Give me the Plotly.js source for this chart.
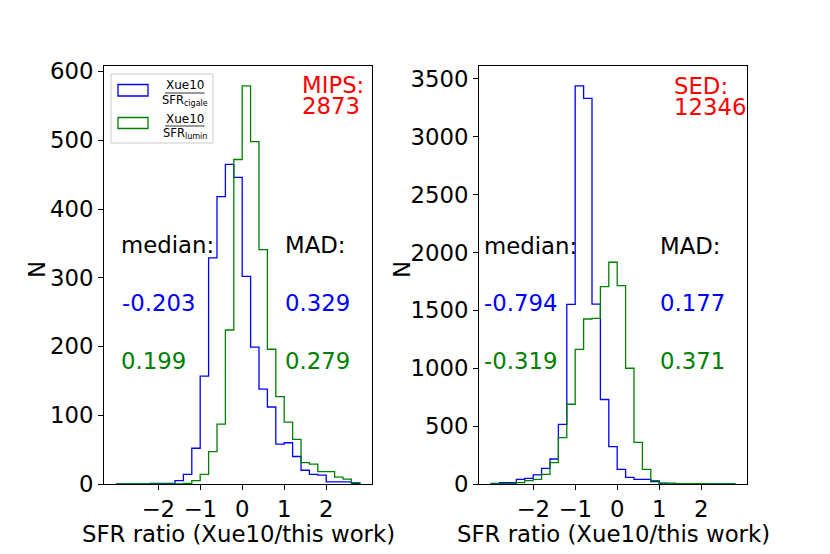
<!DOCTYPE html>
<html>
<head>
<meta charset="utf-8">
<script src="https://cdn.plot.ly/plotly-3.0.1.min.js"></script>
<style>
  body { margin: 0; background: #fff; }
  #chart { width: 830px; height: 554px; }
</style>
</head>
<body>
<div id="chart"></div>
<script>
// histogram bin edges, shared by both panels (width 0.2)
const binEdges = [-3.0, -2.8, -2.6, -2.4, -2.2, -2.0, -1.8, -1.6, -1.4, -1.2, -1.0,
  -0.8, -0.6, -0.4, -0.2, 0.0, 0.2, 0.4, 0.6, 0.8, 1.0, 1.2, 1.4, 1.6, 1.8, 2.0,
  2.2, 2.4, 2.6, 2.8];

// counts per bin
const mipsCigale = [0, 0, 0, 0, 1, 1, 1, 5, 14, 52, 157, 329, 418, 465, 446, 302,
  199, 138, 112, 58, 60, 40, 20, 14, 13, 3, 3, 3, 1];
const mipsLumin = [0, 0, 0, 0, 0, 0, 0, 0, 1, 5, 14, 47, 87, 224, 472, 579, 498,
  341, 196, 127, 90, 65, 31, 29, 18, 18, 10, 7, 2];
const sedCigale = [5, 12, 12, 40, 49, 78, 135, 216, 516, 1553, 3440, 3333, 1555,
  730, 323, 127, 58, 40, 40, 20, 8, 6, 4, 3, 2, 2, 1, 1, 1];
const sedLumin = [2, 3, 3, 12, 29, 40, 84, 184, 400, 689, 1164, 1426, 1432, 1705,
  1916, 1714, 1000, 360, 127, 29, 6, 5, 4, 3, 2, 2, 1, 1, 1];

const xTicks = [-2, -1, 0, 1, 2];
const mipsTicks = [0, 100, 200, 300, 400, 500, 600];
const sedTicks = [0, 500, 1000, 1500, 2000, 2500, 3000, 3500];

// axis labels, sample labels and statistics
const xLabel = "SFR ratio (Xue10/this work)";
const yLabel = "N";
const sampleNames = ["MIPS:", "SED:"];
const sampleSizes = ["2873", "12346"];
const medianCigale = ["-0.203", "-0.794"];
const medianLumin = ["0.199", "-0.319"];
const madCigale = ["0.329", "0.177"];
const madLumin = ["0.279", "0.371"];

const BLUE = "#0000ff", GREEN = "#008000", RED = "#ff0000";
const FONT = "DejaVu Sans";
const FS = 22.8;

// plot area in page pixels
const L = 104, R = 747, T = 66, B = 484;
const px = (x) => (x - L) / (R - L);
const py = (y) => (B - y) / (B - T);

// step outline like matplotlib histtype="step"
function stepTrace(counts, color, xa, ya) {
  return {
    type: "scatter",
    mode: "lines",
    x: [binEdges[0]].concat(binEdges),
    y: [0].concat(counts, [0]),
    line: { color: color, width: 1.3, shape: "hv" },
    xaxis: xa,
    yaxis: ya,
    hoverinfo: "skip",
    showlegend: false,
  };
}

const data = [
  stepTrace(mipsCigale, BLUE, "x", "y"),
  stepTrace(mipsLumin, GREEN, "x", "y"),
  stepTrace(sedCigale, BLUE, "x2", "y2"),
  stepTrace(sedLumin, GREEN, "x2", "y2"),
];

const axisCommon = {
  showline: true,
  mirror: true,
  linecolor: "#000",
  linewidth: 1,
  ticks: "outside",
  ticklen: 5,
  tickwidth: 1,
  tickcolor: "#000",
  showgrid: false,
  zeroline: false,
  tickfont: { family: FONT, size: FS, color: "#000" },
};

function xAxis(domain, anchor) {
  return Object.assign({}, axisCommon, {
    domain: domain,
    anchor: anchor,
    range: [-3.29, 3.09],
    tickmode: "array",
    tickvals: xTicks,
  });
}

function yAxis(range, ticks, anchor) {
  return Object.assign({}, axisCommon, {
    anchor: anchor,
    range: range,
    tickmode: "array",
    tickvals: ticks,
  });
}

function txt(x, y, text, color, anchor, angle) {
  return {
    xref: "paper", yref: "paper",
    x: px(x), y: py(y),
    xanchor: anchor || "left", yanchor: "middle",
    text: text, showarrow: false,
    textangle: angle || 0,
    font: { family: FONT, size: FS, color: color },
  };
}

function small(x, y, text, size) {
  return {
    xref: "paper", yref: "paper",
    x: px(x), y: py(y),
    xanchor: "center", yanchor: "middle",
    text: text, showarrow: false,
    font: { family: FONT, size: size, color: "#000" },
  };
}

const annotations = [
  // axis titles
  txt(238, 534, xLabel, "#000", "center"),
  txt(613, 534, xLabel, "#000", "center"),
  txt(37, 270, yLabel, "#000", "center", -90),
  txt(402, 270, yLabel, "#000", "center", -90),
  // left panel
  txt(300, 85, sampleNames[0], RED),
  txt(300, 105.5, sampleSizes[0], RED),
  txt(119, 245, "median:", "#000"),
  txt(283, 245, "MAD:", "#000"),
  txt(119.5, 303, medianCigale[0], BLUE),
  txt(283, 303, madCigale[0], BLUE),
  txt(119, 360.5, medianLumin[0], GREEN),
  txt(283, 360.5, madLumin[0], GREEN),
  // right panel
  txt(671.5, 86, sampleNames[1], RED),
  txt(671.5, 107, sampleSizes[1], RED),
  txt(481.5, 245.5, "median:", "#000"),
  txt(658, 245.5, "MAD:", "#000"),
  txt(482, 303, medianCigale[1], BLUE),
  txt(658, 303, madCigale[1], BLUE),
  txt(482, 360.5, medianLumin[1], GREEN),
  txt(658, 360.5, madLumin[1], GREEN),
  // legend fractions
  small(185, 85, "Xue10", 12),
  small(185, 100, "SFR<sub>cigale</sub>", 11.5),
  small(185, 118.5, "Xue10", 12),
  small(185, 133.5, "SFR<sub>lumin</sub>", 11.5),
];

const shapes = [
  // legend frame
  {
    type: "rect", xref: "paper", yref: "paper",
    x0: px(111), x1: px(213), y0: py(74), y1: py(143),
    line: { color: "#cccccc", width: 1 },
    fillcolor: "rgba(255,255,255,0.8)",
  },
  // legend handles
  {
    type: "rect", xref: "paper", yref: "paper",
    x0: px(118), x1: px(148), y0: py(84.5), y1: py(96),
    line: { color: BLUE, width: 1.3 },
  },
  {
    type: "rect", xref: "paper", yref: "paper",
    x0: px(118), x1: px(148), y0: py(117.5), y1: py(128.5),
    line: { color: GREEN, width: 1.3 },
  },
  // fraction bars
  {
    type: "line", xref: "paper", yref: "paper",
    x0: px(165), x1: px(204.5), y0: py(93), y1: py(93),
    line: { color: "#000", width: 0.8 },
  },
  {
    type: "line", xref: "paper", yref: "paper",
    x0: px(165), x1: px(204.5), y0: py(126), y1: py(126),
    line: { color: "#000", width: 0.8 },
  },
];

const split1 = (372 - L) / (R - L);
const split2 = (479 - L) / (R - L);

const layout = {
  width: 830,
  height: 554,
  margin: { l: L, r: 830 - R, t: T, b: 554 - B },
  paper_bgcolor: "#fff",
  plot_bgcolor: "#fff",
  font: { family: FONT, size: FS, color: "#000" },
  showlegend: false,
  xaxis: xAxis([0, split1], "y"),
  yaxis: yAxis([0, 608], mipsTicks, "x"),
  xaxis2: xAxis([split2, 1], "y2"),
  yaxis2: yAxis([0, 3612], sedTicks, "x2"),
  annotations: annotations,
  shapes: shapes,
};

Plotly.newPlot("chart", data, layout, { staticPlot: true });
</script>
</body>
</html>
